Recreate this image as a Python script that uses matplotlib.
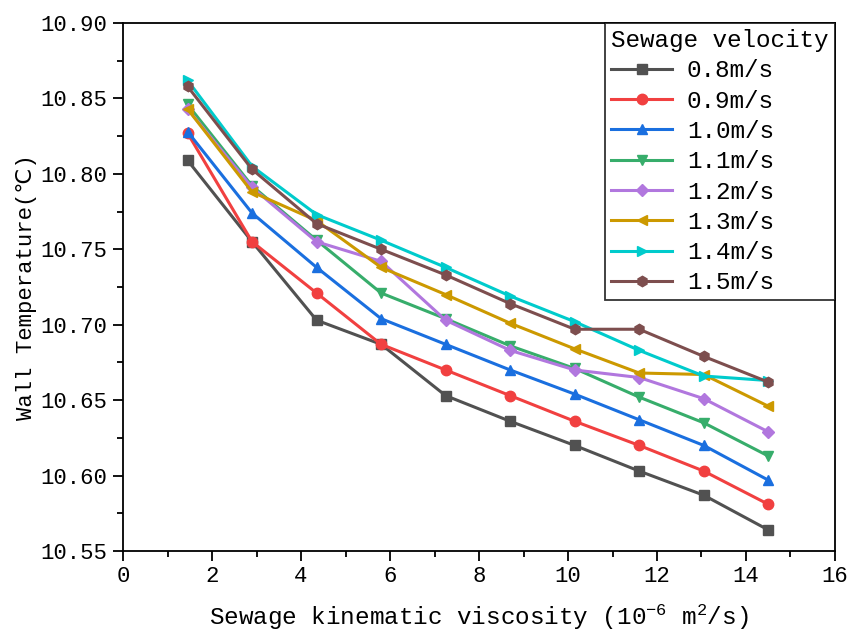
import numpy as np
import matplotlib
matplotlib.use("Agg")
import matplotlib.pyplot as plt
from matplotlib.ticker import MultipleLocator, FormatStrFormatter

plt.rcParams['font.family'] = ['Liberation Mono', 'DejaVu Sans Mono', 'DejaVu Sans']
plt.rcParams['mathtext.fontset'] = 'custom'
plt.rcParams['mathtext.rm'] = 'Liberation Mono'
plt.rcParams['mathtext.default'] = 'regular'

# kinematic viscosity (1e-6 m2/s)
viscosity = [1.45, 2.90, 4.35, 5.80, 7.25, 8.70, 10.15, 11.60, 13.05, 14.50]

labels = ["0.8m/s", "0.9m/s", "1.0m/s", "1.1m/s", "1.2m/s", "1.3m/s", "1.4m/s", "1.5m/s"]

v08 = [10.809, 10.755, 10.703, 10.687, 10.653, 10.636, 10.620, 10.603, 10.587, 10.564]
v09 = [10.827, 10.755, 10.721, 10.687, 10.670, 10.653, 10.636, 10.620, 10.603, 10.581]
v10 = [10.828, 10.774, 10.738, 10.704, 10.687, 10.670, 10.654, 10.637, 10.620, 10.597]
v11 = [10.846, 10.792, 10.756, 10.721, 10.704, 10.686, 10.671, 10.652, 10.635, 10.613]
v12 = [10.843, 10.791, 10.755, 10.742, 10.703, 10.683, 10.670, 10.665, 10.651, 10.629]
v13 = [10.843, 10.788, 10.769, 10.738, 10.720, 10.701, 10.684, 10.668, 10.667, 10.646]
v14 = [10.862, 10.805, 10.773, 10.756, 10.738, 10.719, 10.702, 10.683, 10.666, 10.663]
v15 = [10.858, 10.803, 10.767, 10.750, 10.733, 10.714, 10.697, 10.697, 10.679, 10.662]

series = [v08, v09, v10, v11, v12, v13, v14, v15]
colors = ["#515151", "#F14040", "#1A6FDF", "#37AD6B", "#B177DE", "#CC9900", "#00CBCC", "#7D4E4E"]
markers = ["s", "o", "^", "v", "D", "<", ">", "h"]

fig = plt.figure(figsize=(8.49, 6.33), dpi=100)
ax = fig.add_axes([0.1449, 0.1295, 0.8386, 0.8342])

for ys, c, m, lab in zip(series, colors, markers, labels):
    ms = 6.5 if m == "D" else 7.5
    ax.plot(viscosity, ys, color=c, marker=m, markersize=ms, linewidth=2.2, label=lab)

ax.set_xlim(0, 16)
ax.set_ylim(10.55, 10.90)
ax.xaxis.set_major_locator(MultipleLocator(2))
ax.xaxis.set_minor_locator(MultipleLocator(1))
ax.yaxis.set_major_locator(MultipleLocator(0.05))
ax.yaxis.set_minor_locator(MultipleLocator(0.025))
ax.yaxis.set_major_formatter(FormatStrFormatter('%.2f'))

ax.tick_params(which='both', direction='out', top=False, right=False, labelsize=16, width=1.3)
ax.tick_params(which='major', length=7, pad=4)
ax.tick_params(which='minor', length=4)
for s in ax.spines.values():
    s.set_linewidth(1.3)

ax.set_xlabel(r"Sewage kinematic viscosity (10$^{-6}$ m$^2$/s)", fontsize=17.5, labelpad=11)
ax.set_ylabel("Wall Temperature(℃)", fontsize=16, labelpad=3)

leg = ax.legend(title="Sewage velocity", loc="upper right", fontsize=17.5, title_fontsize=17.5,
                frameon=True, fancybox=False, edgecolor="black", borderaxespad=0,
                handlelength=2.5, labelspacing=0.3, borderpad=0.25, handletextpad=0.6)
leg._legend_box.align = "left"
leg.get_frame().set_linewidth(1.3)

fig.savefig("out.png", dpi=100)
